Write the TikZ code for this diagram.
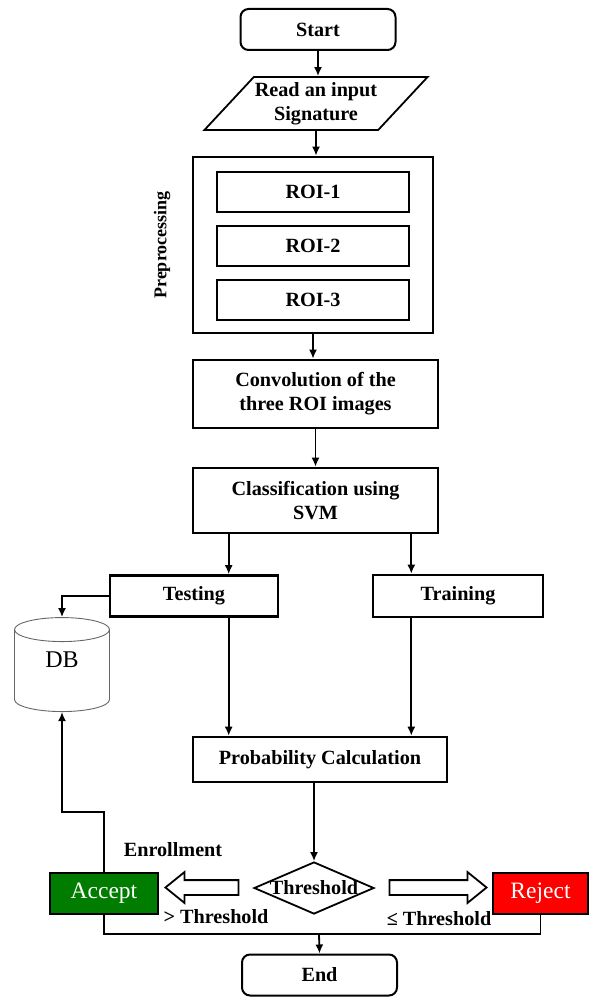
\documentclass[tikz,border=0pt]{standalone}
\usepackage{fontspec}
\setmainfont{Liberation Serif}
\usetikzlibrary{shapes.geometric,shapes.arrows,arrows.meta}
\definecolor{accgreen}{RGB}{0,125,0}
\definecolor{rejred}{RGB}{255,0,0}

\begin{document}
\begin{tikzpicture}[x=1pt,y=-1pt,
	every node/.style={font=\fontsize{20.2}{24}\selectfont\bfseries, align=center},
	blk/.style 2 args={draw, line width=2.6pt, minimum width=#1, minimum height=#2},
	roi/.style={draw, line width=1.3pt, minimum width=192pt, minimum height=40pt},
	term/.style={draw, line width=2pt, rounded corners=8pt, minimum width=155pt, minimum height=41pt},
	verdict/.style={draw, fill=#1, line width=1.3pt, text=white, minimum height=41pt,
		font=\fontsize{23.5}{27}\selectfont\mdseries},
	hollow/.style={single arrow, draw, fill=white, line width=1.8pt, inner xsep=0pt, inner ysep=6.5pt,
		single arrow head extend=8pt, single arrow tip angle=78},
	arr/.style={line width=1.8pt, -{Latex[length=9pt,width=8pt]}},
	ln/.style={line width=1.8pt}]
\useasboundingbox (0,0) rectangle (590,998);
\def\hollowarrow#1#2#3#4{% {имя}{центр}{поворот}{длина}
	\node[hollow, shape border rotate=#3, minimum height=#4] (#1) at (#2) {}
}

\node[term] (start) at (318,29.5) {Start};
\node[trapezium, trapezium left angle=42, trapezium right angle=138, trapezium stretches body,
	draw, line width=1.8pt, minimum width=203pt, minimum height=53pt, inner sep=1pt]
	(read) at (316,103.5) {Read an input\\Signature};

\node[blk={240pt}{176pt}] (pre) at (313,245) {};
\node[rotate=90, font=\fontsize{18}{20}\selectfont\bfseries] (prelbl) at (162,245) {Preprocessing};
\foreach \i/\y in {1/192, 2/246, 3/300}
	\node[roi] (roi\i) at (313,\y) {ROI-\i};

\node[blk={245pt}{68pt}] (conv) at (315.5,394) {Convolution of the\\three ROI images};
\node[blk={245pt}{65pt}] (cls) at (315.5,500.5) {Classification using\\SVM};
\node[blk={168pt}{41pt}] (tst) at (194,596) {Testing};
\node[blk={170pt}{42pt}] (trn) at (458,596) {Training};
\node[cylinder, shape border rotate=90, draw=black!60, line width=0.9pt, aspect=0.6,
	minimum width=95pt, minimum height=94pt, font=\fontsize{24}{27}\selectfont\mdseries,
	label={[yshift=13pt, font=\fontsize{24}{27}\selectfont\mdseries]center:DB}]
	(db) at (62,673) {\phantom{DB}};
\node[blk={254pt}{45pt}] (prob) at (320,759.5) {Probability Calculation};

\node[diamond, draw, line width=1.8pt, minimum width=120pt, minimum height=52pt, inner sep=0pt,
	label=center:Threshold] (thr) at (314,888) {};
\node[verdict=accgreen, minimum width=108pt] (acc) at (104,893.5) {Accept};
\node[verdict=rejred, minimum width=95pt] (rej) at (540.5,893.5) {Reject};
\hollowarrow{larr}{206.5,887.5}{180}{73pt};
\hollowarrow{rarr}{433.5,887.5}{0}{97pt};
\node (enr) at (173,850) {Enrollment};
\node (gt) at (216,917) {> Threshold};
\node (le) at (439,919) {≤ Threshold};

\node[term] (end) at (319.5,975) {End};
\coordinate (join) at (319,934);

\draw[arr] (start.south) -- (start.south |- read.north);
\draw[arr] (read.south) -- (read.south |- pre.north);
\draw[arr] (pre.south) -- (pre.south |- conv.north);
\draw[arr] (conv) -- (cls);
\draw[arr] ([xshift=37pt]cls.south west) coordinate (c1) -- (c1 |- tst.north);
\draw[arr] ([xshift=-28pt]cls.south east) coordinate (c2) -- (c2 |- trn.north);
\draw[arr] (c1 |- tst.south) -- (c1 |- prob.north);
\draw[arr] (c2 |- trn.south) -- (c2 |- prob.north);
\draw[arr] (tst.west) -| (db.top);
\draw[arr] (prob.south -| thr.north) -- (thr.north);
\draw[arr] (acc.north) -- ++(0,-60) -| (db.bottom);
\draw[ln] (acc.south) |- (join) -| (rej.south);
\draw[arr] (join) -- (end.north);
\end{tikzpicture}
\end{document}
